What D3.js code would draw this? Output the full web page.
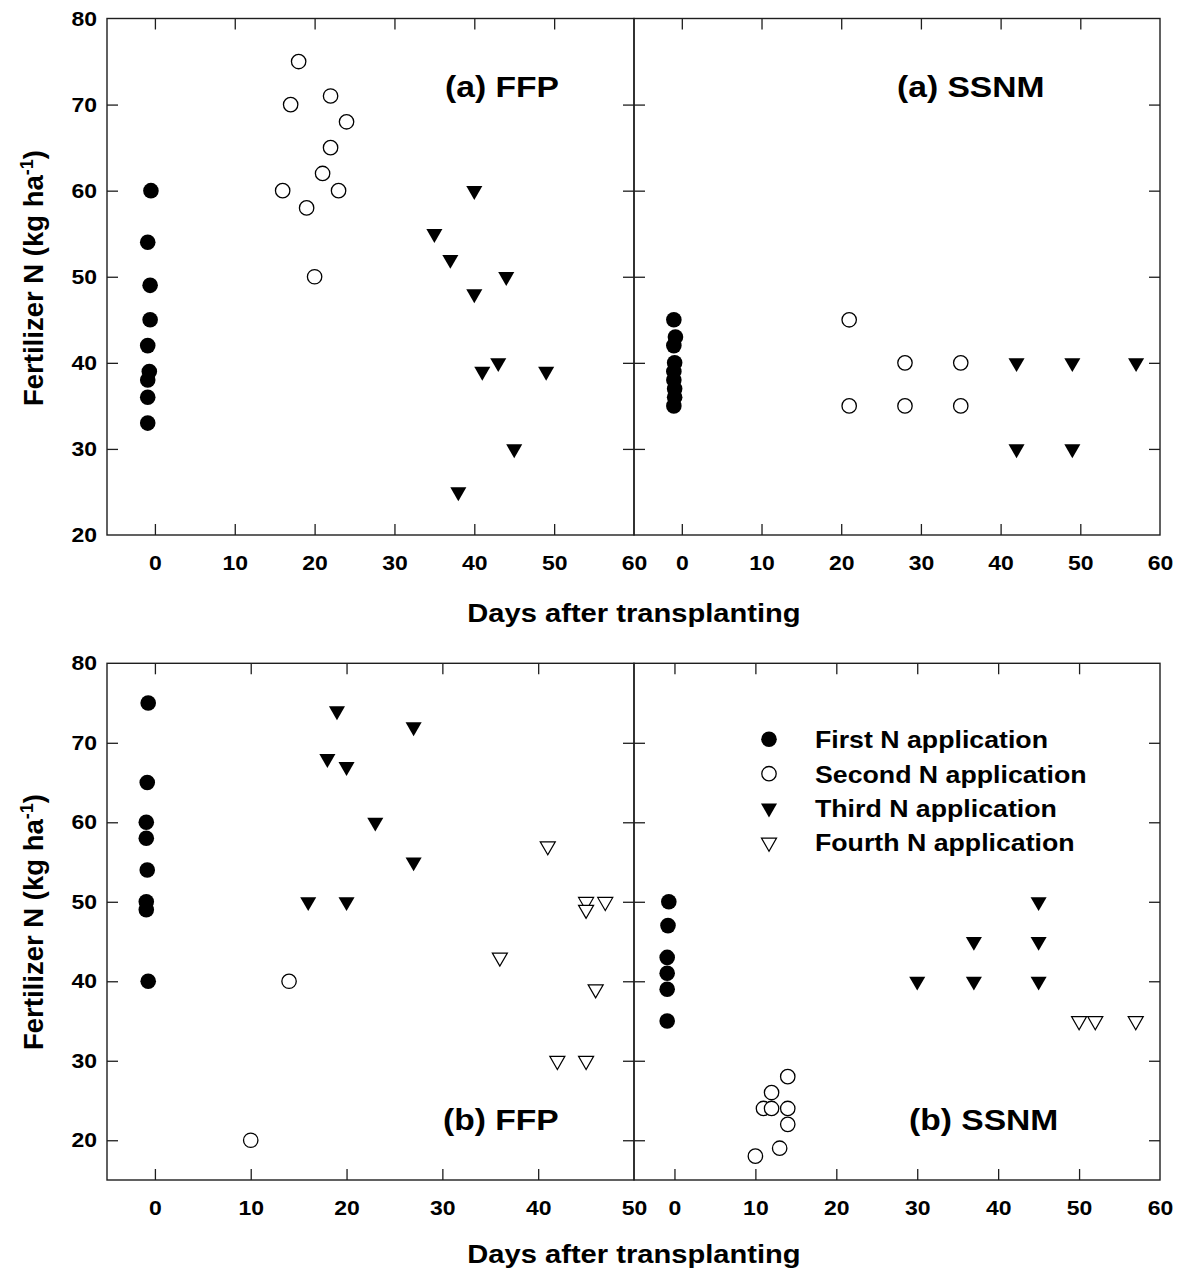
<!DOCTYPE html>
<html>
<head>
<meta charset="utf-8">
<script src="https://cdn.jsdelivr.net/npm/d3@7"></script>
<style>
  body { margin: 0; background: #fff; }
  svg text { font-family: "Liberation Sans", Arial, sans-serif; font-weight: bold; fill: #000; }
</style>
</head>
<body>
<div id="chart"></div>
<script>
// values: [days after transplanting, fertilizer N kg/ha]
const ffpA_first  = [[-0.5,60],[-0.9,54],[-0.6,49],[-0.6,45],[-0.9,42],[-0.7,39],[-0.9,38],[-0.9,36],[-0.9,33]];
const ffpA_second = [[18,75],[17,70],[22,71],[24,68],[22,65],[21,62],[16,60],[23,60],[19,58],[20,50]];
const ffpA_third  = [[40,60],[35,55],[37,52],[44,50],[40,48],[43,40],[41,39],[49,39],[45,30],[38,25]];

const ssnmA_first  = [[-1,45],[-0.8,43],[-1,42],[-0.9,40],[-1,39],[-1,38],[-0.9,37],[-0.9,36],[-1,35]];
const ssnmA_second = [[21,45],[21,35],[28,40],[28,35],[35,40],[35,35]];
const ssnmA_third  = [[42,40],[49,40],[57,40],[42,30],[49,30]];

const ffpB_first  = [[-0.7,75],[-0.8,65],[-0.9,60],[-0.9,58],[-0.8,54],[-0.9,50],[-0.9,49],[-0.7,40]];
const ffpB_second = [[14,40],[10,20]];
const ffpB_third  = [[19,74],[27,72],[18,68],[20,67],[23,60],[27,55],[16,50],[20,50]];
const ffpB_fourth = [[41,57],[45,50],[45,49],[47,50],[36,43],[46,39],[42,30],[45,30]];

const ssnmB_first  = [[-0.7,50],[-0.8,47],[-0.9,43],[-0.9,41],[-0.9,39],[-0.9,35]];
const ssnmB_second = [[14,28],[12,26],[11,24],[12,24],[14,24],[14,22],[13,19],[10,18]];
const ssnmB_third  = [[45,50],[37,45],[45,45],[30,40],[37,40],[45,40]];
const ssnmB_fourth = [[50,35],[52,35],[57,35]];

const seriesNames = ["First N application", "Second N application", "Third N application", "Fourth N application"];
const panelTitles = ["(a) FFP", "(a) SSNM", "(b) FFP", "(b) SSNM"];
const xTicksA = [0, 10, 20, 30, 40, 50, 60];
const xTicksFfpB = [0, 10, 20, 30, 40, 50];
const yTicks = [20, 30, 40, 50, 60, 70, 80];
const xTitle = "Days after transplanting";

const W = 1180, H = 1277;
const INK = "#1e1e1e";
const STRETCH = 1.12;

const svg = d3.select("#chart").append("svg")
    .attr("width", W)
    .attr("height", H);

function stretch(sel, k) {
    sel.each(function () {
        const len = this.getComputedTextLength();
        this.setAttribute("textLength", len * k);
        this.setAttribute("lengthAdjust", "spacingAndGlyphs");
    });
}

const panels = [
    { x0: 107, x1: 634, y0: 18.5, y1: 535, xd: [-6, 60], yd: [20, 80], xt: xTicksA, side: "left",
      title: panelTitles[0], tx: 445, ty: 97, series: [ffpA_first, ffpA_second, ffpA_third, []] },
    { x0: 634, x1: 1160, y0: 18.5, y1: 535, xd: [-6, 60], yd: [20, 80], xt: xTicksA, side: "right",
      title: panelTitles[1], tx: 897, ty: 97, series: [ssnmA_first, ssnmA_second, ssnmA_third, []] },
    { x0: 107, x1: 634, y0: 663.3, y1: 1180, xd: [-5, 50], yd: [15, 80], xt: xTicksFfpB, side: "left",
      title: panelTitles[2], tx: 443, ty: 1130, series: [ffpB_first, ffpB_second, ffpB_third, ffpB_fourth] },
    { x0: 634, x1: 1160, y0: 663.3, y1: 1180, xd: [-5, 60], yd: [15, 80], xt: xTicksA, side: "right",
      title: panelTitles[3], tx: 909, ty: 1130, series: [ssnmB_first, ssnmB_second, ssnmB_third, ssnmB_fourth], legend: true }
];

const circleR = 7.8;
const triFilled = d3.symbol().type(d3.symbolTriangle).size(112);
const triOpen = d3.symbol().type(d3.symbolTriangle).size(98);

function drawMarker(g, kind, x, y) {
    if (kind === 0 || kind === 1) {
        g.append("circle")
            .attr("cx", x).attr("cy", y).attr("r", kind === 0 ? circleR : circleR - 0.6)
            .attr("fill", kind === 0 ? "#000" : "#fff")
            .attr("stroke", "#000")
            .attr("stroke-width", kind === 0 ? 0 : 1.3);
    } else {
        g.append("path")
            .attr("d", kind === 2 ? triFilled() : triOpen())
            .attr("transform", `translate(${x},${y}) rotate(180)`)
            .attr("fill", kind === 2 ? "#000" : "#fff")
            .attr("stroke", "#000")
            .attr("stroke-width", kind === 2 ? 0 : 1.2);
    }
}

panels.forEach(p => {
    const x = d3.scaleLinear().domain(p.xd).range([p.x0, p.x1]);
    const y = d3.scaleLinear().domain(p.yd).range([p.y1, p.y0]);
    const g = svg.append("g");

    const innerX = p.xt.filter(v => x(v) > p.x0 + 1 && x(v) < p.x1 - 1);
    const innerY = yTicks.filter(v => y(v) > p.y0 + 1 && y(v) < p.y1 - 1);

    // inward tick marks on all four sides
    const bottomAxis = d3.axisBottom(x).tickValues(p.xt).tickSizeInner(-11).tickSizeOuter(0).tickPadding(20);
    const bAx = g.append("g").attr("transform", `translate(0,${p.y1})`).call(bottomAxis);
    const topAxis = d3.axisTop(x).tickValues(innerX).tickSizeInner(-11).tickSizeOuter(0).tickFormat("");
    g.append("g").attr("transform", `translate(0,${p.y0})`).call(topAxis);
    const leftAxis = d3.axisLeft(y).tickValues(p.side === "left" ? yTicks : innerY)
        .tickSizeInner(-11).tickSizeOuter(0).tickPadding(10);
    if (p.side !== "left") leftAxis.tickFormat("");
    const lAx = g.append("g").attr("transform", `translate(${p.x0},0)`).call(leftAxis);
    const rightAxis = d3.axisRight(y).tickValues(innerY).tickSizeInner(-11).tickSizeOuter(0).tickFormat("");
    g.append("g").attr("transform", `translate(${p.x1},0)`).call(rightAxis);

    g.selectAll(".domain").remove();
    g.selectAll(".tick line").attr("stroke", INK).attr("stroke-width", 1.3);
    // no tick marks on the frame edges
    bAx.selectAll(".tick line").filter(v => !innerX.includes(v)).remove();
    lAx.selectAll(".tick line").filter(v => !innerY.includes(v)).remove();

    g.selectAll(".tick text")
        .attr("font-size", 20.5)
        .attr("font-family", "Liberation Sans, Arial, sans-serif")
        .attr("font-weight", "bold")
        .attr("fill", "#000");
    stretch(g.selectAll(".tick text").filter(function () { return this.textContent !== ""; }), STRETCH);

    g.append("rect")
        .attr("x", p.x0).attr("y", p.y0)
        .attr("width", p.x1 - p.x0).attr("height", p.y1 - p.y0)
        .attr("fill", "none").attr("stroke", INK).attr("stroke-width", 1.4);

    const marks = g.append("g");
    p.series.forEach((pts, k) => {
        pts.forEach(d => drawMarker(marks, k, x(d[0]), y(d[1])));
    });

    const t = g.append("text")
        .attr("x", p.tx).attr("y", p.ty)
        .attr("font-size", 30)
        .text(p.title);
    stretch(t, STRETCH);

    if (p.legend) {
        const lg = g.append("g").attr("transform", `translate(${p.x0 + 135},${p.y0 + 76})`);
        seriesNames.forEach((name, i) => {
            const yy = i * 34.4;
            drawMarker(lg, i, 0, yy);
            const lt = lg.append("text")
                .attr("x", 46).attr("y", yy)
                .attr("dy", "0.36em")
                .attr("font-size", 24.5)
                .text(name);
            stretch(lt, 1.09);
        });
    }
});

// axis titles
[[621.7, 278], [1263, 922]].forEach(([ty, yc]) => {
    const xt = svg.append("text")
        .attr("x", 634).attr("y", ty)
        .attr("text-anchor", "middle")
        .attr("font-size", 26)
        .text(xTitle);
    stretch(xt, STRETCH);

    const yt = svg.append("text")
        .attr("transform", `translate(43,${yc}) rotate(-90)`)
        .attr("text-anchor", "middle")
        .attr("font-size", 27.5);
    yt.append("tspan").text("Fertilizer N (kg ha");
    yt.append("tspan").attr("font-size", 18).attr("dy", -10).text("-1");
    yt.append("tspan").attr("dy", 10).text(")");
});
</script>
</body>
</html>
